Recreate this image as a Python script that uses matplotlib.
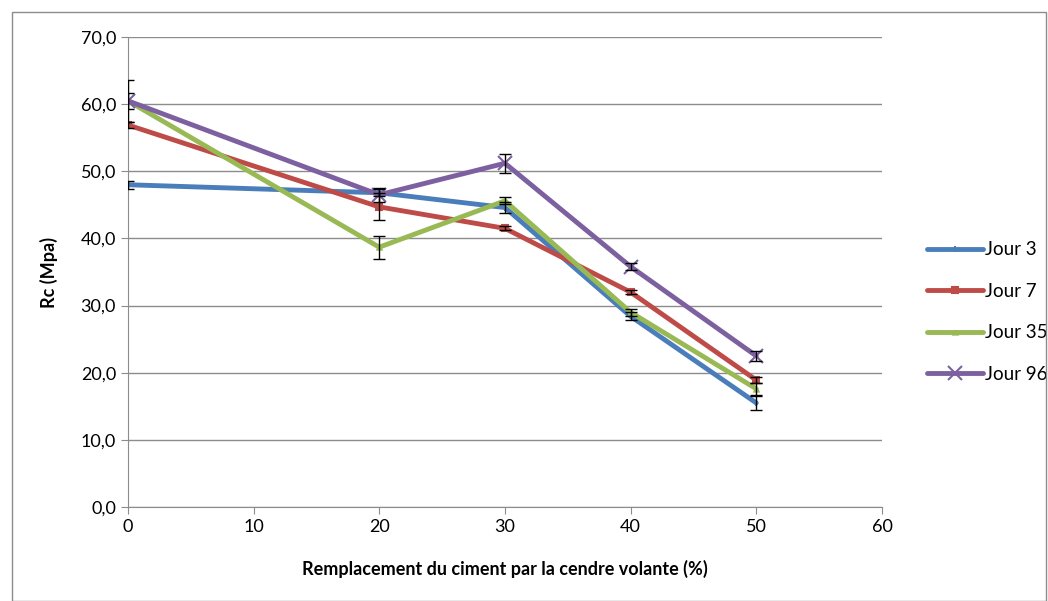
import numpy as np
import matplotlib.pyplot as plt
from matplotlib.patches import Rectangle
from matplotlib.ticker import FuncFormatter

plt.rcParams['font.family'] = ['Lato', 'DejaVu Sans']

x = [0, 20, 30, 40, 50]
labels = ["Jour 3", "Jour 7", "Jour 35", "Jour 96"]
jour3 = [48.0, 46.8, 44.6, 28.4, 15.5]
jour7 = [56.9, 44.7, 41.5, 32.0, 18.9]
jour35 = [60.5, 38.7, 45.6, 29.0, 17.6]
jour96 = [60.5, 46.5, 51.2, 35.8, 22.5]
err3 = [0.6, 0.5, 0.8, 0.6, 1.0]
err7 = [0.4, 2.0, 0.3, 0.3, 0.5]
err35 = [1.2, 1.7, 0.5, 0.5, 0.9]
err96 = [3.1, 1.0, 1.4, 0.5, 0.7]

colors = ['#4A7EBB', '#BE4B48', '#98B954', '#7D60A0']
markers = ['|', 's', '^', 'x']
msizes = [4, 4, 3, 10]

fig = plt.figure(figsize=(10.48, 6.01), dpi=100)
ax = fig.add_axes([0.122, 0.1564, 0.7196, 0.782])

series = [jour3, jour7, jour35, jour96]
errs = [err3, err7, err35, err96]
for s, e, c, m, ms, lab in zip(series, errs, colors, markers, msizes, labels):
    ax.plot(x, s, color=c, lw=3.5, marker=m, ms=ms, mec=c, mew=1.5, label=lab,
            solid_capstyle='round', zorder=3)
    ax.errorbar(x, s, yerr=e, fmt='none', ecolor='black', elinewidth=1, capsize=4,
                capthick=1, zorder=4)

ax.set_xlim(0, 60)
ax.set_ylim(0, 70)
ax.set_xticks(np.arange(0, 61, 10))
ax.set_yticks(np.arange(0, 71, 10))
ax.yaxis.set_major_formatter(FuncFormatter(lambda v, p: f"{v:.1f}".replace('.', ',')))
ax.grid(axis='y', color='#8C8C8C', lw=1)
ax.set_axisbelow(True)
for sp in ['top', 'right']:
    ax.spines[sp].set_visible(False)
for sp in ['left', 'bottom']:
    ax.spines[sp].set_color('#8C8C8C')
ax.tick_params(colors='#8C8C8C', labelcolor='black', labelsize=13, length=5, direction='out')
ax.set_xlabel("Remplacement du ciment par la cendre volante (%)", fontsize=13,
              fontweight='bold', labelpad=18)
ax.set_ylabel("Rc (Mpa)", fontsize=13, fontweight='bold', labelpad=16)

ax.legend(loc='center left', bbox_to_anchor=(1.06, 0.415), frameon=False, fontsize=13.5,
          handlelength=3.0, labelspacing=1.3, handletextpad=0.1, borderaxespad=0,
          borderpad=0)

fig.patches.append(Rectangle((0.011, 0.0), 0.987, 0.98, transform=fig.transFigure,
                             fill=False, edgecolor='#8C8C8C', lw=1))

fig.savefig('out.png', dpi=100)
